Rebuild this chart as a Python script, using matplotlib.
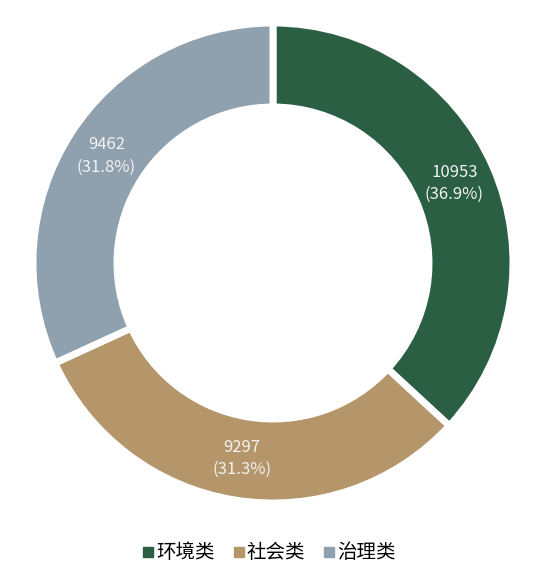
import matplotlib
matplotlib.use("Agg")
import matplotlib.pyplot as plt
from matplotlib.lines import Line2D
import numpy as np

plt.rcParams['font.family'] = ['Noto Sans CJK SC', 'DejaVu Sans']

# data
categories = ["环境类", "社会类", "治理类"]
values = [10953, 9297, 9462]
colors = ["#2a5f43", "#b5956a", "#8fa0ae"]

total = sum(values)
labels = ["{}\n({:.1f}%)".format(v, v / total * 100) for v in values]

fig = plt.figure(figsize=(5.5, 5.76), dpi=100)
# pie box in pixels: center (273, 263), radius 240
ax = fig.add_axes([33 / 550, (576 - 503) / 576, 480 / 550, 480 / 576])

wedges, texts = ax.pie(values, colors=colors, startangle=90, counterclock=False,
                       radius=1.0,
                       wedgeprops=dict(width=0.35, edgecolor="white", linewidth=5))
ax.set_xlim(-1, 1)
ax.set_ylim(-1, 1)
ax.axis("off")

start = 90.0
for v, lab in zip(values, labels):
    span = v / total * 360
    mid = np.deg2rad(start - span / 2)
    r = 0.825
    ax.text(r * np.cos(mid), r * np.sin(mid), lab, ha="center", va="center",
            fontsize=12, color="#f2f2f2", fontweight="light", linespacing=1.4)
    start -= span

handles = [Line2D([0], [0], marker="s", linestyle="", markersize=7,
                  markerfacecolor=c, markeredgecolor=c) for c in colors]
fig.legend(handles, categories, loc="center", bbox_to_anchor=(0.488, 1 - 553 / 576),
           ncol=3, frameon=False, fontsize=14, handletextpad=0.05, columnspacing=0.9,
           handlelength=0.7)

fig.savefig("out.png", dpi=100)
